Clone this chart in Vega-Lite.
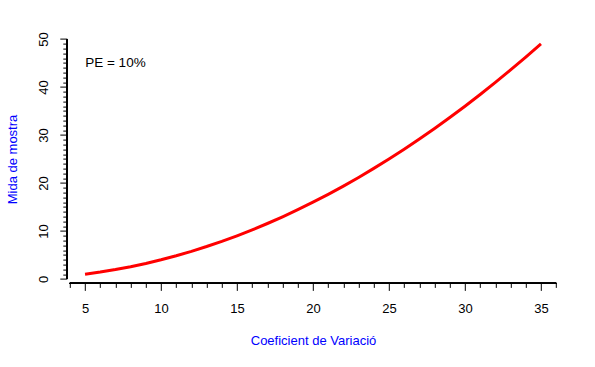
{
  "$schema": "https://vega.github.io/schema/vega-lite/v6.json",
  "width": 492.4,
  "height": 248.8,
  "autosize": {"type": "none"},
  "padding": {"left": 66.8, "top": 34.6, "right": 35.8, "bottom": 83.6},
  "background": "white",
  "config": {
    "view": {"stroke": null},
    "font": "Liberation Sans",
    "axis": {
      "domain": false,
      "grid": false,
      "labelFont": "Liberation Sans",
      "labelFontSize": 13,
      "labelColor": "#000000",
      "tickColor": "#000000",
      "tickWidth": 1,
      "titleFont": "Liberation Sans",
      "titleFontSize": 13,
      "titleFontWeight": "normal",
      "titleColor": "#0000FF",
      "labelOverlap": false,
      "labelBound": false,
      "labelFlush": false
    }
  },
  "data": {
    "values": [
      {"cv": 5, "n": 1},
      {"cv": 6, "n": 1.44},
      {"cv": 7, "n": 1.96},
      {"cv": 8, "n": 2.56},
      {"cv": 9, "n": 3.24},
      {"cv": 10, "n": 4},
      {"cv": 11, "n": 4.84},
      {"cv": 12, "n": 5.76},
      {"cv": 13, "n": 6.76},
      {"cv": 14, "n": 7.84},
      {"cv": 15, "n": 9},
      {"cv": 16, "n": 10.24},
      {"cv": 17, "n": 11.56},
      {"cv": 18, "n": 12.96},
      {"cv": 19, "n": 14.44},
      {"cv": 20, "n": 16},
      {"cv": 21, "n": 17.64},
      {"cv": 22, "n": 19.36},
      {"cv": 23, "n": 21.16},
      {"cv": 24, "n": 23.04},
      {"cv": 25, "n": 25},
      {"cv": 26, "n": 27.04},
      {"cv": 27, "n": 29.16},
      {"cv": 28, "n": 31.36},
      {"cv": 29, "n": 33.64},
      {"cv": 30, "n": 36},
      {"cv": 31, "n": 38.44},
      {"cv": 32, "n": 40.96},
      {"cv": 33, "n": 43.56},
      {"cv": 34, "n": 46.24},
      {"cv": 35, "n": 49}
    ]
  },
  "layer": [
    {
      "mark": {"type": "line", "color": "#FF0000", "strokeWidth": 3, "clip": false},
      "encoding": {
        "x": {
          "field": "cv", "type": "quantitative",
          "scale": {"domain": [3.8, 36.2], "nice": false, "zero": false},
          "axis": {
            "title": "Coeficient de Variació",
            "format": "d",
            "values": [4,5,6,7,8,9,10,11,12,13,14,15,16,17,18,19,20,21,22,23,24,25,26,27,28,29,30,31,32,33,34,35,36],
            "tickCount": 100,
            "labelExpr": "datum.value % 5 === 0 ? datum.label : ''",
            "tickSize": {"condition": {"test": "datum.value % 5 === 0", "value": 7}, "value": 4},
            "labelPadding": 12,
            "titlePadding": 19
          }
        },
        "y": {
          "field": "n", "type": "quantitative",
          "scale": {"domain": [-0.92, 50.92], "nice": false, "zero": false},
          "axis": {
            "title": "Mida de mostra",
            "format": "d",
            "values": [0,1,2,3,4,5,6,7,8,9,10,11,12,13,14,15,16,17,18,19,20,21,22,23,24,25,26,27,28,29,30,31,32,33,34,35,36,37,38,39,40,41,42,43,44,45,46,47,48,49,50],
            "tickCount": 100,
            "labelExpr": "datum.value % 10 === 0 ? datum.label : ''",
            "labelAngle": 270,
            "labelAlign": "center",
            "labelBaseline": "bottom",
            "tickSize": {"condition": {"test": "datum.value % 10 === 0", "value": 7}, "value": 4},
            "labelPadding": 9,
            "titlePadding": 18
          }
        }
      }
    },
    {
      "mark": {"type": "rule", "color": "#000000", "strokeWidth": 1},
      "encoding": {
        "x": {"datum": 4, "type": "quantitative"},
        "x2": {"datum": 36},
        "y": {"value": "height"}
      }
    },
    {
      "mark": {"type": "rule", "color": "#000000", "strokeWidth": 1},
      "encoding": {
        "y": {"datum": 0, "type": "quantitative"},
        "y2": {"datum": 50},
        "x": {"value": 0}
      }
    },
    {
      "data": {"values": [{"cv": 7, "n": 45, "label": "PE = 10%"}]},
      "mark": {"type": "text", "fontSize": 13.5, "color": "#000000", "align": "center", "baseline": "middle", "font": "Liberation Sans"},
      "encoding": {
        "x": {"field": "cv", "type": "quantitative"},
        "y": {"field": "n", "type": "quantitative"},
        "text": {"field": "label"}
      }
    }
  ]
}
